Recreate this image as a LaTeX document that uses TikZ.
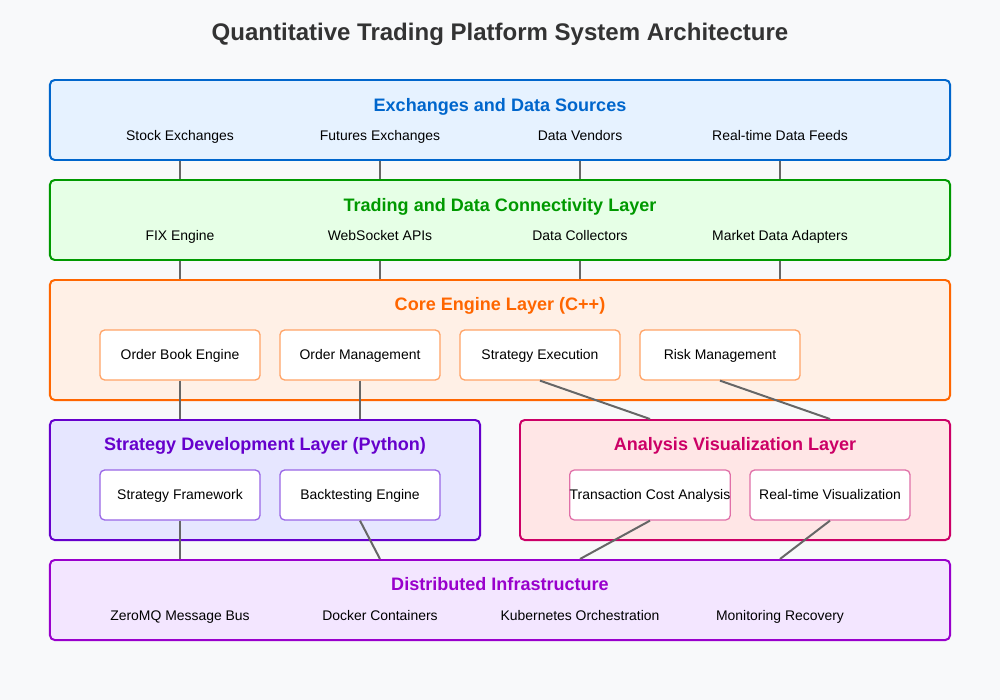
\documentclass[tikz,border=0pt]{standalone}
\usepackage{fontspec}
\setmainfont{Liberation Sans}
\usetikzlibrary{positioning}
\definecolor{pagebg}{HTML}{F8F9FA}
\definecolor{titlegray}{HTML}{333333}
\definecolor{linkgray}{HTML}{666666}
\definecolor{exchline}{HTML}{0066CC}
\definecolor{exchfill}{HTML}{E6F2FF}
\definecolor{connline}{HTML}{009900}
\definecolor{connfill}{HTML}{E6FFE6}
\definecolor{coreline}{HTML}{FF6600}
\definecolor{corefill}{HTML}{FFF0E6}
\definecolor{coremod}{HTML}{FFA366}
\definecolor{stratline}{HTML}{6600CC}
\definecolor{stratfill}{HTML}{E6E6FF}
\definecolor{stratmod}{HTML}{9966E6}
\definecolor{analline}{HTML}{CC0066}
\definecolor{analfill}{HTML}{FFE6E6}
\definecolor{analmod}{HTML}{E070A8}
\definecolor{distline}{HTML}{9900CC}
\definecolor{distfill}{HTML}{F3E6FF}
\tikzset{
  layer/.style={rectangle, rounded corners=4pt, line width=1.7pt,
    minimum width=27cm, minimum height=2.4cm, inner sep=0pt},
  halflayer/.style={layer, minimum width=12.9cm, minimum height=3.6cm},
  layertitle/.style={font=\fontsize{15.4}{18}\selectfont\bfseries, inner sep=0pt,
    text height=0.716em, text depth=0pt},
  item/.style={font=\fontsize{11.9}{14}\selectfont, text=black, inner sep=0pt,
    text height=0.716em, text depth=0pt},
  module/.style={item, rectangle, rounded corners=4pt, fill=white, line width=1.1pt,
    minimum width=4.8cm, minimum height=1.5cm},
  link/.style={line width=1.7pt, draw=linkgray},
}

\begin{document}
\begin{tikzpicture}[x=0.03cm, y=-0.03cm]
\fill[pagebg] (0,0) rectangle (1000,700);
\node[font=\fontsize{20.5}{24}\selectfont\bfseries, text=titlegray, inner sep=0pt,
  text height=0.716em, text depth=0pt] (title) at (500,36) {Quantitative Trading Platform System Architecture};

\node[layer, draw=exchline, fill=exchfill] (exch) at (500,120) {};
\node[layertitle, text=exchline] (exchtitle) at (500,107) {Exchanges and Data Sources};
\node[item] (stock) at (180,136) {Stock Exchanges};
\node[item] (futures) at (380,136) {Futures Exchanges};
\node[item] (vendors) at (580,136) {Data Vendors};
\node[item] (feeds) at (780,136) {Real-time Data Feeds};

\node[layer, draw=connline, fill=connfill] (conn) at (500,220) {};
\node[layertitle, text=connline] (conntitle) at (500,207) {Trading and Data Connectivity Layer};
\node[item] (fix) at (180,236) {FIX Engine};
\node[item] (websocket) at (380,236) {WebSocket APIs};
\node[item] (collectors) at (580,236) {Data Collectors};
\node[item] (adapters) at (780,236) {Market Data Adapters};

\node[layer, minimum height=3.6cm, draw=coreline, fill=corefill] (core) at (500,340) {};
\node[layertitle, text=coreline] (coretitle) at (500,306) {Core Engine Layer (C++)};
\node[module, draw=coremod] (orderbook) at (180,355) {Order Book Engine};
\node[module, draw=coremod] (ordermgmt) at (360,355) {Order Management};
\node[module, draw=coremod] (stratexec) at (540,355) {Strategy Execution};
\node[module, draw=coremod] (risk) at (720,355) {Risk Management};

\node[halflayer, draw=stratline, fill=stratfill] (strat) at (265,480) {};
\node[layertitle, text=stratline] (strattitle) at (265,446) {Strategy Development Layer (Python)};
\node[module, draw=stratmod] (framework) at (180,495) {Strategy Framework};
\node[module, draw=stratmod] (backtest) at (360,495) {Backtesting Engine};

\node[halflayer, draw=analline, fill=analfill] (anal) at (735,480) {};
\node[layertitle, text=analline] (analtitle) at (735,446) {Analysis Visualization Layer};
\node[module, draw=analmod] (tca) at (650,495) {Transaction Cost Analysis};
\node[module, draw=analmod] (visual) at (830,495) {Real-time Visualization};

\node[layer, draw=distline, fill=distfill] (dist) at (500,600) {};
\node[layertitle, text=distline] (disttitle) at (500,586) {Distributed Infrastructure};
\node[item] (zeromq) at (180,616) {ZeroMQ Message Bus};
\node[item] (docker) at (380,616) {Docker Containers};
\node[item] (kubernetes) at (580,616) {Kubernetes Orchestration};
\node[item] (monitoring) at (780,616) {Monitoring Recovery};

\draw[link] (stock |- exch.south) -- (fix |- conn.north);
\draw[link] (futures |- exch.south) -- (websocket |- conn.north);
\draw[link] (vendors |- exch.south) -- (collectors |- conn.north);
\draw[link] (feeds |- exch.south) -- (adapters |- conn.north);
\draw[link] (fix |- conn.south) -- (fix |- core.north);
\draw[link] (websocket |- conn.south) -- (websocket |- core.north);
\draw[link] (collectors |- conn.south) -- (collectors |- core.north);
\draw[link] (adapters |- conn.south) -- (adapters |- core.north);
\draw[link] (orderbook.south) -- (orderbook |- strat.north);
\draw[link] (ordermgmt.south) -- (ordermgmt |- strat.north);
\draw[link] (stratexec.south) -- (tca |- anal.north);
\draw[link] (risk.south) -- (visual |- anal.north);
\draw[link] (framework.south) -- (zeromq |- dist.north);
\draw[link] (backtest.south) -- (docker |- dist.north);
\draw[link] (tca.south) -- (kubernetes |- dist.north);
\draw[link] (visual.south) -- (monitoring |- dist.north);
\end{tikzpicture}
\end{document}
